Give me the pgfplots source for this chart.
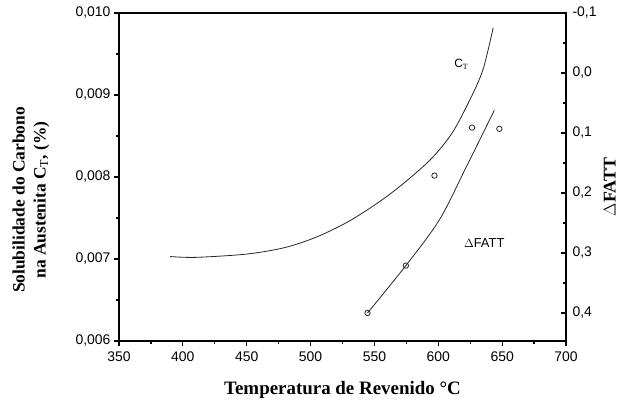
\documentclass[border=0pt]{standalone}
\usepackage{pgfplots}
\pgfplotsset{compat=1.18}
\usepackage{fontspec}
\setmainfont{Liberation Serif}
\setsansfont{Liberation Sans}

\begin{document}
\begin{tikzpicture}
	% left axis: carbon solubility C_T
	\begin{axis}[
			name=main,
			scale only axis,
			width=447bp, height=328bp,
			xmin=350, xmax=700,
			ymin=0.006, ymax=0.010,
			scaled y ticks=false,
			xtick={350,400,...,700},
			minor x tick num=1,
			ytick={0.006,0.007,0.008,0.009,0.010},
			yticklabels={{0,006},{0,007},{0,008},{0,009},{0,010}},
			xticklabels={350,400,450,500,550,600,650,700},
			minor y tick num=1,
			xtick pos=bottom, ytick pos=left,
			tick align=outside,
			major tick length=5bp, minor tick length=3bp,
			axis line style={line width=1.4bp},
			every tick/.style={line width=1.2bp, black},
			tick label style={font=\sffamily\fontsize{14}{14}\selectfont},
			xticklabel style={yshift=-2bp},
			xlabel={\bfseries Temperatura de Revenido °C},
			xlabel style={font=\fontsize{19}{19}\selectfont, at={(axis description cs:0.5,-0.15)}, anchor=center},
			ylabel={\bfseries\begin{tabular}{c}Solubilidade do Carbono\\ na Austenita C$_\mathrm{T}$, (\%)\end{tabular}},
			ylabel style={font=\fontsize{17.5}{21}\selectfont, at={(axis description cs:-0.197,0.43)}, anchor=center},
			clip=false,
		]
		\addplot[line width=0.8bp, black!85, smooth, tension=0.5] coordinates {
				(390,0.00703)(410,0.00702)(450,0.00706)(480,0.00714)
				(505,0.00727)(530,0.00746)(555,0.00771)(575,0.00795)(595,0.00823)
				(611,0.00854)(625,0.00895)(635,0.00931)(643,0.00982)
			};
		\node[font=\sffamily\fontsize{12}{12}\selectfont] at (axis cs:618,0.00937) {C$_\mathrm{T}$};
		\node[font=\sffamily\fontsize{13}{13}\selectfont] at (axis cs:636,0.00720) {$\Delta$FATT};
	\end{axis}
	% right axis: Delta FATT
	\begin{axis}[
			scale only axis,
			width=447bp, height=328bp,
			xmin=350, xmax=700,
			ymin=-0.1, ymax=0.4467,
			y dir=reverse,
			axis x line=none,
			axis y line*=right,
			ytick={-0.1,0,0.1,0.2,0.3,0.4},
			yticklabels={{-0,1},{0,0},{0,1},{0,2},{0,3},{0,4}},
			minor y tick num=1,
			tick align=inside,
			major tick length=5bp, minor tick length=3bp,
			axis line style={line width=1.4bp},
			every tick/.style={line width=1.2bp, black},
			tick label style={font=\sffamily\fontsize{14}{14}\selectfont},
			yticklabel style={xshift=3bp},
			ylabel={\bfseries $\Delta$FATT},
			ylabel style={font=\fontsize{18}{18}\selectfont, at={(axis description cs:1.098,0.47)}, anchor=center},
			clip=false,
		]
		\addplot[line width=0.8bp, black!85, smooth, tension=0.5] coordinates {
				(544.6,0.400)(574.6,0.321)(600.8,0.245)
				(621.6,0.158)(643.9,0.062)
			};
		\addplot[only marks, mark=o, mark size=2.7bp, black!85, mark options={line width=0.8bp}] coordinates {
				(544.6,0.400)(574.6,0.321)(597,0.171)(626.4,0.091)(647.8,0.093)
			};
	\end{axis}
	\pgfresetboundingbox
	\useasboundingbox (main.south west) ++(-119bp,-64bp) rectangle ++(624bp,405bp);
\end{tikzpicture}
\end{document}
